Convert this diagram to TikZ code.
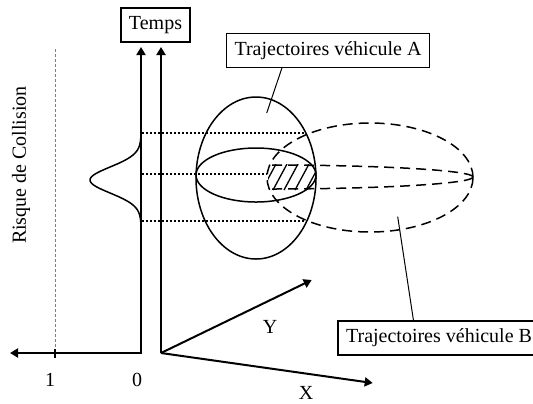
\documentclass[tikz,border=0pt]{standalone}
\usepackage{fontspec}
\setmainfont{Liberation Serif}
\usetikzlibrary{arrows.meta,shapes.geometric,calc}
\begin{document}
\begin{tikzpicture}[x=0.5pt,y=-0.5pt,
  axis/.style={line width=1pt},
  tipend/.style={-{Triangle[length=4pt,width=4.5pt]}},
  box/.style={draw,line width=0.6pt,inner xsep=4pt,inner ysep=0pt,minimum height=17pt,font=\fontsize{10}{12}\selectfont},
  ell/.style={draw,ellipse,inner sep=0pt,outer sep=0pt,line width=0.75pt},
  dsh/.style={dash pattern=on 5pt off 3pt},
  dots/.style={line width=1pt,dash pattern=on 1pt off 1pt},
  pointer/.style={line width=0.5pt},
  lbl/.style={font=\fontsize{10}{12}\selectfont,inner sep=0pt}]
\useasboundingbox (0,0) rectangle (533,403);

% axes
\coordinate (L) at (10,353);
\coordinate (O0) at (141,353);
\coordinate (T0) at (141,47);
\coordinate (O) at (161,353);
\coordinate (T) at (161,47);
\coordinate (Yt) at (311.7,280);
\coordinate (Xt) at (372.7,383);
\draw[axis,{Triangle[length=4pt,width=4.5pt]}-{Triangle[length=4pt,width=4.5pt]}] (L) -- (O0) -- (T0);
\draw[axis,tipend] (O) -- (T);
\draw[axis,tipend] (O) -- (Yt);
\draw[axis,tipend] (O) -- (Xt);

% risk = 1 reference line and tick
\coordinate (r1) at (55,49);
\coordinate (r1b) at (55,353);
\coordinate (tk1) at (55,349);
\coordinate (tk2) at (55,358);
\draw[line width=0.3pt,gray,dash pattern=on 1.5pt off 1pt] (r1) -- (r1b);
\draw[line width=0.9pt] (tk1) -- (tk2);

% labels
\node[box] (temps) at (155.5,25) {Temps};
\node[lbl] (ylab) at (270,327) {Y};
\node[lbl] (xlab) at (306,393) {X};
\node[lbl] (one) at (50,380) {1};
\node[lbl] (zero) at (137,380) {0};
\node[lbl,rotate=90] (risk) at (21,165) {Risque de Collision};

% gaussian
\draw[line width=0.75pt] plot[smooth,domain=138:222,samples=60] ({141-51*exp(-0.5*((\x-180)/13)^2)},\x);

% ellipses
\node[ell,minimum width=60pt,minimum height=81pt] (eA) at (256,178) {};
\node[ell,minimum width=60pt,minimum height=27pt] (eAi) at (256,175) {};
\node[ell,dsh,minimum width=103pt,minimum height=54.5pt] (eB) at (370,177.5) {};

% lens of B
\coordinate (tipB) at (473,177);
\draw[line width=0.75pt,dsh] (tipB) arc[start angle=0,end angle=90,x radius=102.5pt,y radius=6pt];
\draw[line width=0.75pt,dsh] (tipB) arc[start angle=0,end angle=-90,x radius=102.5pt,y radius=6pt];

% hatched overlap
\begin{scope}
  \clip (268,164) rectangle (316,190);
  \clip (370,177.5) ellipse [x radius=51.5pt,y radius=27.25pt];
  \clip (256,178) ellipse [x radius=30pt,y radius=40.5pt];
  \foreach \hx in {262,273,284,295,306,317}
    \draw[line width=0.65pt] (\hx,190) -- ++(14,-26);
\end{scope}

% dotted projections
\coordinate (d1) at (142,133);
\coordinate (d1e) at (306,133);
\coordinate (d2) at (142,174);
\coordinate (d2e) at (267,174);
\coordinate (d3) at (142,221);
\coordinate (d3e) at (306,221);
\draw[dots] (d1) -- (d1e);
\draw[dots] (d2) -- (d2e);
\draw[dots] (d3) -- (d3e);

% callouts
\node[box] (boxA) at (328,50.5) {Trajectoires véhicule A};
\node[box] (boxB) at (439,338) {Trajectoires véhicule B};
\coordinate (pA) at (266.7,113);
\coordinate (pB) at (397.7,216.7);
\draw[pointer] ([xshift=28pt]boxA.south west) -- (pA);
\draw[pointer] ([xshift=38pt]boxB.north west) -- (pB);
\end{tikzpicture}
\end{document}
